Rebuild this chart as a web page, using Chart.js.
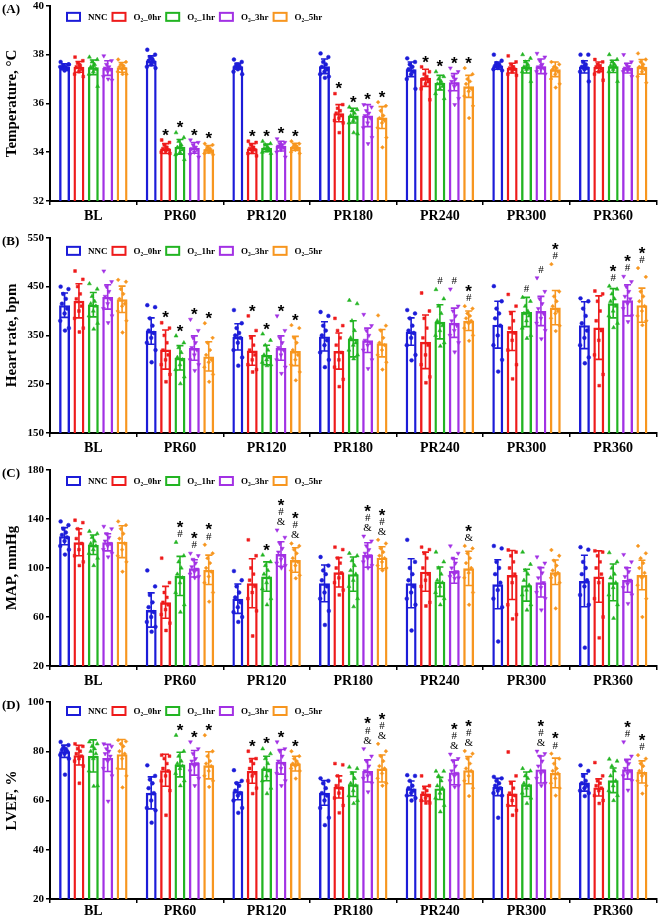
<!DOCTYPE html>
<html>
<head>
<meta charset="utf-8">
<script src="https://cdn.jsdelivr.net/npm/chart.js@4.4.0/dist/chart.umd.min.js"></script>
<style>
  body { margin: 0; background: #fff; }
  canvas { position: absolute; left: 0; }
</style>
</head>
<body>
<canvas id="panelA" width="661" height="232" style="top:0"></canvas>
<canvas id="panelB" width="661" height="232" style="top:232px"></canvas>
<canvas id="panelC" width="661" height="232" style="top:464px"></canvas>
<canvas id="panelD" width="661" height="222" style="top:696px"></canvas>
<script>
const categories = ['BL', 'PR60', 'PR120', 'PR180', 'PR240', 'PR300', 'PR360'];
const groupNames = ['NNC', 'O₂_0hr', 'O₂_1hr', 'O₂_3hr', 'O₂_5hr'];
const groupColors = ['#1c1cd8', '#ee1b1b', '#22b422', '#a231e4', '#f7961f'];
const pointShapes = ['circle', 'rect', 'triangle', 'triangle', 'rectRot'];
const pointRotations = [0, 0, 0, 180, 0];
const pointSizes = [1.9, 2.0, 2.3, 2.3, 1.9];

// (A) temperature, rows = groups, cols = categories
const tempMeans = [
  [37.5, 37.75, 37.52, 37.52, 37.4, 37.55, 37.5],
  [37.5, 34.15, 34.15, 35.6, 37.05, 37.45, 37.5],
  [37.48, 34.22, 34.18, 35.5, 36.85, 37.5, 37.52],
  [37.45, 34.18, 34.25, 35.5, 36.87, 37.52, 37.45],
  [37.48, 34.12, 34.22, 35.42, 36.7, 37.4, 37.5],
];
const tempSD = [
  [0.12, 0.2, 0.12, 0.3, 0.3, 0.15, 0.25],
  [0.22, 0.2, 0.2, 0.35, 0.35, 0.2, 0.2],
  [0.3, 0.3, 0.15, 0.3, 0.3, 0.25, 0.25],
  [0.3, 0.22, 0.2, 0.45, 0.35, 0.3, 0.2],
  [0.2, 0.15, 0.15, 0.45, 0.45, 0.3, 0.3],
];
const tempPoints = [
  [[37.7, 37.6, 37.55, 37.5, 37.45, 37.4, 37.35, 37.5, 37.6, 37.45],
   [38.2, 38.0, 37.9, 37.8, 37.75, 37.7, 37.6, 37.5, 37.45, 37.85],
   [37.8, 37.7, 37.6, 37.55, 37.5, 37.45, 37.4, 37.3, 37.2, 37.6],
   [38.05, 37.9, 37.7, 37.6, 37.5, 37.4, 37.3, 37.2, 37.1, 37.05],
   [37.85, 37.7, 37.6, 37.5, 37.4, 37.3, 37.2, 37.0, 36.6, 37.5],
   [38.0, 37.75, 37.65, 37.6, 37.55, 37.5, 37.45, 37.4, 37.35, 37.6],
   [38.0, 38.0, 37.7, 37.6, 37.5, 37.45, 37.4, 37.3, 36.9, 37.55]],
  [[37.9, 37.75, 37.65, 37.55, 37.5, 37.4, 37.3, 37.2, 37.1, 37.6],
   [34.5, 34.4, 34.3, 34.2, 34.15, 34.1, 34.05, 34.0, 33.95, 34.2],
   [34.45, 34.4, 34.3, 34.2, 34.15, 34.1, 34.0, 33.95, 33.85, 34.2],
   [36.4, 35.95, 35.8, 35.7, 35.6, 35.5, 35.4, 35.3, 35.2, 34.8],
   [37.5, 37.3, 37.2, 37.1, 37.0, 36.9, 36.8, 36.6, 36.15, 37.05],
   [37.95, 37.7, 37.6, 37.5, 37.45, 37.4, 37.3, 37.2, 37.15, 37.5],
   [37.8, 37.7, 37.6, 37.55, 37.5, 37.4, 37.3, 37.2, 36.95, 37.5]],
  [[37.9, 37.8, 37.7, 37.6, 37.5, 37.4, 37.3, 37.2, 36.7, 37.55],
   [34.8, 34.6, 34.45, 34.3, 34.2, 34.1, 34.0, 33.9, 33.7, 34.25],
   [34.45, 34.35, 34.3, 34.2, 34.15, 34.1, 34.05, 34.0, 33.95, 34.2],
   [35.85, 35.75, 35.7, 35.6, 35.5, 35.4, 35.3, 35.2, 34.75, 34.8],
   [37.3, 37.1, 37.0, 36.9, 36.8, 36.7, 36.6, 36.4, 36.2, 36.85],
   [38.0, 37.85, 37.7, 37.6, 37.5, 37.45, 37.4, 37.3, 36.9, 37.55],
   [38.0, 37.8, 37.7, 37.6, 37.55, 37.5, 37.4, 37.3, 36.9, 37.5]],
  [[37.95, 37.75, 37.6, 37.5, 37.45, 37.4, 37.3, 37.1, 36.95, 37.0],
   [34.5, 34.4, 34.3, 34.2, 34.15, 34.1, 34.0, 33.9, 33.8, 34.2],
   [34.55, 34.4, 34.35, 34.3, 34.25, 34.2, 34.1, 34.0, 33.8, 34.3],
   [35.95, 35.85, 35.7, 35.6, 35.5, 35.4, 35.2, 35.0, 34.6, 34.35],
   [37.45, 37.3, 37.1, 37.0, 36.9, 36.8, 36.7, 36.5, 36.2, 35.95],
   [38.05, 37.9, 37.75, 37.6, 37.5, 37.45, 37.4, 37.3, 37.2, 37.55],
   [38.0, 37.7, 37.6, 37.5, 37.45, 37.4, 37.35, 37.3, 37.1, 37.5]],
  [[37.8, 37.7, 37.6, 37.55, 37.5, 37.45, 37.4, 37.3, 37.2, 37.2],
   [34.35, 34.3, 34.2, 34.15, 34.1, 34.05, 34.0, 33.95, 33.9, 34.1],
   [34.45, 34.35, 34.3, 34.25, 34.2, 34.15, 34.1, 34.0, 33.95, 34.25],
   [36.05, 35.9, 35.7, 35.5, 35.4, 35.3, 35.2, 35.0, 34.6, 34.2],
   [37.45, 37.2, 37.0, 36.9, 36.8, 36.6, 36.5, 36.3, 35.9, 35.4],
   [37.7, 37.6, 37.5, 37.45, 37.4, 37.3, 37.2, 37.0, 36.8, 36.65],
   [38.05, 37.8, 37.7, 37.6, 37.5, 37.4, 37.3, 37.1, 36.85, 37.5]],
];
const tempMarks = [
  ['', '', '', '', '', '', ''],
  ['', '*', '*', '*', '*', '', ''],
  ['', '*', '*', '*', '*', '', ''],
  ['', '*', '*', '*', '*', '', ''],
  ['', '*', '*', '*', '*', '', ''],
];

// (B) heart rate
const hrMeans = [
  [412, 359, 347, 348, 358, 372, 371],
  [421, 321, 319, 318, 337, 359, 366],
  [413, 304, 310, 343, 378, 398, 416],
  [429, 324, 324, 340, 376, 400, 422],
  [424, 307, 318, 334, 380, 407, 412],
];
const hrSD = [
  [25, 27, 27, 30, 28, 48, 48],
  [35, 40, 30, 37, 55, 40, 65],
  [25, 25, 20, 37, 35, 30, 30],
  [25, 25, 25, 25, 30, 30, 32],
  [27, 30, 30, 28, 20, 35, 35],
];
const hrPoints = [
  [[450, 445, 435, 425, 415, 405, 395, 380, 365, 360],
   [412, 408, 385, 370, 360, 355, 345, 335, 320, 295],
   [402, 375, 365, 355, 350, 345, 335, 320, 305, 288],
   [398, 390, 370, 360, 350, 340, 330, 315, 300, 285],
   [402, 395, 385, 370, 360, 355, 345, 330, 310, 299],
   [451, 420, 405, 395, 385, 370, 350, 330, 300, 276],
   [426, 420, 405, 390, 375, 360, 345, 330, 305, 293]],
  [[482, 465, 450, 435, 425, 410, 400, 385, 365, 357],
   [376, 365, 350, 335, 320, 310, 300, 290, 270, 255],
   [390, 360, 345, 330, 320, 310, 300, 290, 280, 275],
   [385, 370, 360, 345, 330, 315, 300, 285, 260, 245],
   [437, 400, 385, 365, 345, 330, 310, 290, 265, 253],
   [434, 410, 395, 380, 365, 355, 340, 320, 290, 261],
   [441, 435, 420, 400, 380, 360, 340, 310, 270, 247]],
  [[456, 445, 430, 420, 415, 410, 400, 390, 375, 363],
   [349, 335, 325, 315, 305, 300, 290, 280, 265, 251],
   [353, 340, 330, 320, 310, 305, 300, 295, 290, 288],
   [422, 415, 380, 360, 345, 335, 330, 320, 310, 302],
   [444, 425, 410, 395, 380, 370, 360, 350, 335, 328],
   [428, 420, 410, 400, 395, 390, 380, 365, 350, 344],
   [451, 445, 435, 425, 420, 410, 400, 390, 375, 366]],
  [[482, 460, 450, 440, 430, 425, 415, 405, 390, 376],
   [383, 360, 345, 335, 325, 320, 310, 300, 290, 278],
   [390, 360, 345, 335, 325, 320, 310, 300, 285, 272],
   [393, 370, 360, 350, 340, 335, 330, 320, 300, 282],
   [445, 410, 400, 390, 380, 370, 360, 350, 335, 316],
   [468, 440, 425, 415, 405, 395, 385, 375, 360, 343],
   [471, 460, 450, 440, 430, 425, 415, 405, 390, 378]],
  [[464, 460, 445, 435, 425, 415, 410, 400, 380, 356],
   [375, 345, 335, 320, 310, 300, 295, 285, 270, 255],
   [371, 365, 345, 335, 320, 310, 300, 290, 275, 258],
   [391, 370, 360, 345, 335, 330, 320, 310, 295, 280],
   [410, 405, 395, 390, 385, 380, 375, 365, 350, 339],
   [496, 440, 430, 420, 410, 400, 395, 385, 370, 359],
   [488, 470, 440, 430, 420, 410, 400, 390, 380, 371]],
];
const hrMarks = [
  ['', '', '', '', '', '', ''],
  ['', '*', '*', '', '', '', ''],
  ['', '*', '*', '', '#', '#', '*#'],
  ['', '*', '*', '', '#', '#', '*#'],
  ['', '*', '*', '', '*#', '*#', '*#'],
];

// (C) mean arterial pressure
const mapMeans = [
  [126, 65.7, 75, 87.5, 87.5, 86.7, 89.4],
  [121, 72, 87.5, 96.5, 97, 94.3, 93],
  [119, 93.5, 93, 95, 88.8, 86, 88.3],
  [121, 99.7, 111.4, 110.6, 97.6, 88.3, 90.2],
  [121.5, 98.5, 106.5, 108.4, 99.7, 96.5, 94.3],
];
const mapSD = [
  [7, 14, 12, 15, 20, 20, 21],
  [11, 13, 20, 12, 16, 20, 21],
  [8, 16, 12, 14, 12, 13, 15],
  [7, 7, 10, 10, 10, 12, 10],
  [13, 12, 10, 9, 14, 10, 12],
];
const mapPoints = [
  [[138, 135, 132, 129, 127, 125, 122, 118, 115, 111],
   [98, 85, 78, 72, 68, 64, 60, 56, 52, 48],
   [97.5, 90, 85, 80, 76, 72, 68, 64, 60, 56],
   [109, 102, 98, 95, 90, 85, 80, 75, 65, 53.5],
   [123, 105, 100, 95, 90, 85, 80, 75, 70, 49],
   [118, 116, 105, 100, 95, 88, 82, 75, 68, 40],
   [117, 115, 105, 100, 95, 90, 85, 78, 70, 35]],
  [[139, 137, 132, 128, 124, 120, 115, 110, 105, 102],
   [108, 88, 80, 76, 72, 70, 66, 62, 55, 49],
   [123, 110, 100, 95, 90, 85, 80, 75, 65, 44.5],
   [117, 115, 108, 104, 100, 96, 92, 88, 82, 78],
   [117, 115, 112, 108, 100, 95, 90, 85, 72, 69],
   [114.7, 113, 110, 105, 100, 95, 88, 70, 62, 58.4],
   [114, 113, 110, 105, 100, 95, 88, 75, 60, 43]],
  [[130, 128, 125, 122, 120, 118, 115, 112, 108, 102],
   [121, 110, 105, 100, 95, 92, 88, 80, 70, 64],
   [110.6, 105, 102, 98, 95, 92, 88, 83, 75, 70],
   [112, 110, 106, 102, 98, 95, 90, 85, 75, 68.4],
   [113, 105, 100, 95, 90, 88, 85, 80, 75, 70],
   [113, 103, 98, 95, 90, 86, 82, 78, 70, 65.7],
   [112.5, 105, 100, 95, 92, 88, 84, 78, 70, 59]],
  [[134, 132, 128, 125, 122, 120, 118, 115, 112, 109],
   [112, 110, 107, 104, 101, 99, 97, 95, 93, 92],
   [131, 125, 120, 116, 113, 110, 107, 104, 102, 100],
   [126, 122, 118, 115, 112, 110, 108, 105, 102, 100],
   [118, 112, 108, 104, 100, 97, 95, 93, 92, 91.6],
   [109, 104, 100, 96, 92, 88, 84, 80, 75, 65.7],
   [111, 105, 100, 97, 93, 90, 87, 84, 78, 71]],
  [[138, 135, 132, 128, 124, 120, 115, 110, 105, 97],
   [119, 112, 108, 104, 100, 97, 93, 88, 80, 72.5],
   [120, 118, 115, 112, 108, 105, 102, 98, 94, 91.6],
   [123, 120, 116, 113, 110, 108, 105, 102, 100, 98],
   [118, 116, 112, 108, 104, 100, 96, 92, 80, 70],
   [114.7, 110, 106, 102, 98, 96, 94, 92, 88, 67],
   [118, 112, 108, 104, 100, 96, 92, 86, 75, 60]],
];
const mapMarks = [
  ['', '', '', '', '', '', ''],
  ['', '', '', '', '', '', ''],
  ['', '*#', '*', '', '', '', ''],
  ['', '*#', '*#&', '*#&', '', '', ''],
  ['', '*#', '*#&', '*#&', '*&', '', ''],
];

// (D) left ventricular ejection fraction
const efMeans = [
  [80, 63.1, 63.8, 63.1, 64.9, 65.5, 67.3],
  [78.4, 72.3, 72, 65.5, 62.8, 62.8, 65.3],
  [78.1, 74.6, 73, 66.6, 64.9, 66.6, 68.2],
  [77.3, 75.3, 75.7, 72, 71.4, 72.6, 72.7],
  [78.8, 74.3, 75, 73, 72.3, 71.2, 71.6],
];
const efSD = [
  [2.5, 6.5, 3.5, 5, 3, 3.5, 3.5],
  [4, 6.5, 5, 4.5, 3, 5, 3.5],
  [6.5, 5, 5, 5, 4.5, 5, 5],
  [5.5, 5, 5, 4.5, 5, 5.5, 4],
  [6, 5.5, 3, 5.5, 5.5, 6, 4.5],
];
const efPoints = [
  [[83.8, 82.5, 81.5, 81, 80.5, 80, 79, 78.5, 77, 70.5],
   [74.3, 70, 68.5, 67, 65, 63, 60, 57, 56, 51],
   [72.3, 68, 67, 66, 64, 63, 62, 60, 57, 55],
   [69, 68, 67, 65, 63, 62, 60, 57, 53, 50],
   [70.3, 70, 68, 66, 65, 64, 63, 62, 61, 60],
   [69.6, 69, 68, 67, 66, 65, 64, 63, 62, 53],
   [74.3, 72, 70, 68, 67, 66, 65, 64, 63, 61.8]],
  [[83, 82, 81, 80, 79, 78, 77, 76, 74, 67],
   [78.4, 78, 77, 75, 73, 72, 70, 68, 64, 54],
   [80, 77, 76, 75, 73, 71, 70, 68, 65, 62.8],
   [75, 74.5, 70, 68, 66, 65, 63, 61, 58, 55],
   [70, 66, 65, 64, 63, 62, 61, 60, 59, 59],
   [79.7, 70, 67, 65, 63, 62, 60, 58, 56, 54],
   [75.4, 70, 68, 67, 66, 65, 64, 62, 60, 58.8]],
  [[83.8, 83, 82, 81, 80, 79, 77, 72, 66, 65.8],
   [86.5, 80, 78, 76, 75, 74, 73, 71, 68, 66],
   [81, 79, 77, 75, 73, 72, 70, 68, 65, 62.8],
   [73.6, 73, 71, 69, 67, 66, 64, 62, 60, 58.8],
   [71.9, 71.9, 70, 68, 66, 65, 63, 61, 58, 55.4],
   [73, 72, 70, 69, 67, 66, 65, 63, 61, 58.8],
   [76.8, 76, 74, 72, 70, 68, 66, 64, 62, 60]],
  [[83, 82, 81, 80, 79, 78, 76, 73, 70, 59.7],
   [83.8, 81, 79, 77, 76, 75, 74, 72, 69, 66],
   [83.8, 81, 80, 78, 76, 75, 73, 71, 68, 66],
   [81, 78, 76, 74, 72, 71, 70, 69, 67, 63.5],
   [78.8, 77, 76, 74, 72, 71, 70, 68, 66, 65.5],
   [80, 79, 78, 76, 74, 72, 71, 69, 67, 66],
   [83.8, 78, 76, 75, 73, 72, 71, 70, 68, 64.2]],
  [[84.5, 84, 83, 82, 80, 79, 77, 73, 70, 65.3],
   [86.5, 80, 78, 76, 75, 74, 72, 70, 68, 65.5],
   [80, 78, 77, 76, 75, 75, 74, 73, 72, 68.9],
   [83, 80, 78, 76, 74, 73, 71, 69, 67, 66],
   [80.1, 79, 77, 75, 73, 72, 70, 68, 65, 61.8],
   [79, 77, 75, 73, 72, 71, 69, 67, 65, 62],
   [78.4, 77, 75, 74, 72, 71, 70, 68, 66, 62.8]],
];
const efMarks = [
  ['', '', '', '', '', '', ''],
  ['', '', '*', '', '', '', ''],
  ['', '*', '*', '', '', '', ''],
  ['', '*', '*', '*#&', '*#&', '*#&', '*#'],
  ['', '*', '*', '*#&', '*#&', '*#', '*#'],
];

const SERIF = '"Liberation Serif", "Times New Roman", serif';
const SANS = '"Liberation Sans", Arial, sans-serif';
const CAT_PCT = 0.83;
const BAR_PCT = 0.76;
const jitter = [-0.045, 0.045, -0.015, 0.015, -0.03, 0.03, 0, -0.05, 0.05, 0.005];

function decor(p) {
    return {
        id: 'decor',
        afterDatasetsDraw(chart) {
            const ctx = chart.ctx;
            const y = chart.scales.y;
            const area = chart.chartArea;
            ctx.save();

            // error bars (mean ± SD)
            p.means.forEach((row, k) => {
                const meta = chart.getDatasetMeta(k);
                ctx.strokeStyle = groupColors[k];
                ctx.lineWidth = 1.6;
                row.forEach((m, i) => {
                    const el = meta.data[i];
                    const sd = p.sds[k][i];
                    const hi = y.getPixelForValue(m + sd);
                    const lo = y.getPixelForValue(Math.max(m - sd, p.min));
                    const cap = el.width * 0.32;
                    ctx.beginPath();
                    ctx.moveTo(el.x, lo);
                    ctx.lineTo(el.x, hi);
                    ctx.moveTo(el.x - cap, hi);
                    ctx.lineTo(el.x + cap, hi);
                    ctx.moveTo(el.x - cap, lo);
                    ctx.lineTo(el.x + cap, lo);
                    ctx.stroke();
                });
            });

            // significance symbols
            ctx.fillStyle = '#000';
            ctx.textAlign = 'center';
            ctx.textBaseline = 'middle';
            p.marks.forEach((row, k) => {
                const meta = chart.getDatasetMeta(k);
                row.forEach((s, i) => {
                    if (!s) return;
                    const top = Math.max(p.means[k][i] + p.sds[k][i], ...p.points[k][i]);
                    let py = y.getPixelForValue(top) - 8;
                    s.split('').reverse().forEach((ch) => {
                        if (ch === '*') {
                            ctx.font = 'bold 17px ' + SANS;
                            ctx.fillText(ch, meta.data[i].x, py + 4);
                        } else {
                            ctx.font = '11px ' + SERIF;
                            ctx.fillText(ch, meta.data[i].x, py);
                        }
                        py -= 10;
                    });
                });
            });

            // legend inside the plot
            let lx = area.left + 17;
            const ly = area.top + p.legendY;
            ctx.font = 'bold 9px ' + SERIF;
            ctx.textAlign = 'left';
            groupNames.forEach((name, k) => {
                ctx.strokeStyle = groupColors[k];
                ctx.lineWidth = 2;
                ctx.strokeRect(lx, ly - 4, 13, 8);
                ctx.fillStyle = '#000';
                ctx.fillText(name, lx + 21, ly + 0.5);
                lx += 21 + ctx.measureText(name).width + 5;
            });

            // panel letter
            ctx.font = 'bold 13px ' + SERIF;
            ctx.fillText(p.letter, 2, area.top + 4);
            ctx.restore();
        },
    };
}

function makePanel(id, p) {
    const datasets = [];
    p.means.forEach((row, k) => {
        datasets.push({
            type: 'bar',
            label: groupNames[k],
            data: row.map((v, i) => ({ x: i, y: v })),
            borderColor: groupColors[k],
            backgroundColor: 'rgba(255,255,255,0)',
            borderWidth: 2.4,
            borderSkipped: 'start',
            categoryPercentage: CAT_PCT,
            barPercentage: BAR_PCT,
            order: 2,
        });
    });
    p.points.forEach((rows, k) => {
        const slot = (k - 2) * CAT_PCT / 5;
        const data = [];
        rows.forEach((vals, i) => {
            vals.forEach((v, j) => data.push({ x: i + slot + jitter[j % jitter.length], y: v }));
        });
        datasets.push({
            type: 'scatter',
            data,
            backgroundColor: groupColors[k],
            borderColor: groupColors[k],
            borderWidth: 0.5,
            pointStyle: pointShapes[k],
            rotation: pointRotations[k],
            pointRadius: pointSizes[k],
            order: 1,
        });
    });

    new Chart(document.getElementById(id).getContext('2d'), {
        type: 'bar',
        data: { datasets },
        options: {
            responsive: false,
            animation: false,
            layout: { padding: { top: p.padTop, right: 1, left: 0, bottom: 0 } },
            plugins: { legend: { display: false }, tooltip: { enabled: false } },
            scales: {
                x: {
                    type: 'linear',
                    offset: false,
                    min: -0.5,
                    max: 6.5,
                    afterBuildTicks(scale) {
                        scale.ticks = categories.map((c, i) => ({ value: i }));
                    },
                    afterFit(scale) { scale.height = p.xHeight; },
                    ticks: {
                        callback: (v) => categories[v],
                        color: '#000',
                        autoSkip: false,
                        maxRotation: 0,
                        padding: p.labelPad,
                        font: { family: SERIF, weight: 'bold', size: 14 },
                    },
                    grid: { drawOnChartArea: false, tickLength: 4, color: '#000', lineWidth: 1.5 },
                    border: { color: '#000', width: 2 },
                },
                y: {
                    min: p.min,
                    max: p.max,
                    afterFit(scale) { scale.width = 50; },
                    ticks: {
                        stepSize: p.step,
                        color: '#000',
                        padding: 2,
                        font: { family: SERIF, weight: 'bold', size: 11, lineHeight: 0.7 },
                    },
                    grid: { drawOnChartArea: false, tickLength: 4, color: '#000', lineWidth: 1.5 },
                    border: { color: '#000', width: 2 },
                    title: {
                        display: true,
                        text: p.title,
                        color: '#000',
                        padding: { top: 3, bottom: 0 },
                        font: { family: SERIF, weight: 'bold', size: 15 },
                    },
                },
            },
        },
        plugins: [decor(p)],
    });
}

makePanel('panelA', {
    letter: '(A)', title: 'Temperature, °C', min: 32, max: 40, step: 2,
    means: tempMeans, sds: tempSD, points: tempPoints, marks: tempMarks,
    padTop: 4, xHeight: 31, labelPad: 3, legendY: 11,
});
makePanel('panelB', {
    letter: '(B)', title: 'Heart rate, bpm', min: 150, max: 550, step: 100,
    means: hrMeans, sds: hrSD, points: hrPoints, marks: hrMarks,
    padTop: 4, xHeight: 31, labelPad: 3, legendY: 13,
});
makePanel('panelC', {
    letter: '(C)', title: 'MAP, mmHg', min: 20, max: 180, step: 40,
    means: mapMeans, sds: mapSD, points: mapPoints, marks: mapMarks,
    padTop: 6, xHeight: 30, labelPad: 3, legendY: 11,
});
makePanel('panelD', {
    letter: '(D)', title: 'LVEF, %', min: 20, max: 100, step: 20,
    means: efMeans, sds: efSD, points: efPoints, marks: efMarks,
    padTop: 6, xHeight: 19, labelPad: 0, legendY: 9,
});
</script>
</body>
</html>
